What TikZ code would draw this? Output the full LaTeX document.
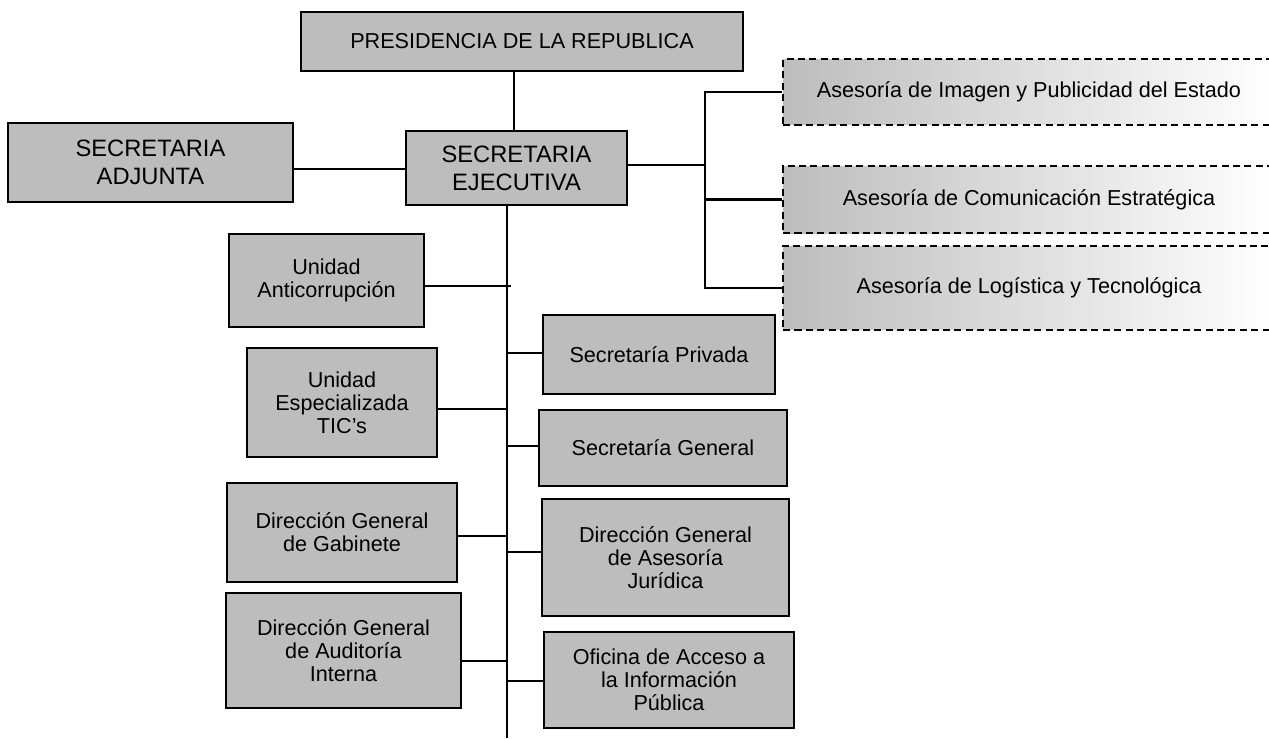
\documentclass[tikz,border=0pt]{standalone}
\usepackage{fontspec}
\setmainfont{Liberation Sans}
\usepackage{tikz}

\definecolor{cajagris}{gray}{0.74}

\tikzset{
	caja/.style={draw, line width=1.3pt, fill=cajagris, inner sep=0pt, align=center, font=\fontsize{12.3}{13}\selectfont},
	grande/.style={caja, font=\fontsize{13.5}{16}\selectfont},
	asesoria/.style={draw, line width=1.3pt, dash pattern=on 4pt off 2.5pt, left color=cajagris, right color=white, inner sep=0pt, align=center, font=\fontsize{12.3}{13}\selectfont, minimum width=9.84cm},
	linea/.style={line width=1.2pt}
}

\begin{document}
\begin{tikzpicture}[x=0.02cm, y=-0.02cm]
			\useasboundingbox (0,0) rectangle (1269,738);
			\node[caja, minimum width=8.84cm, minimum height=1.18cm] (pres) at (522,41.5) {PRESIDENCIA DE LA REPUBLICA};
			\node[grande, minimum width=4.42cm, minimum height=1.48cm] (ejec) at (516.5,168) {SECRETARIA\\EJECUTIVA};
			\node[grande, minimum width=5.70cm, minimum height=1.58cm] (adj) at (150.5,162.5) {SECRETARIA\\ADJUNTA};
			\node[asesoria, minimum height=1.32cm] (imagen) at (1029,92) {Asesoría de Imagen y Publicidad del Estado};
			\node[asesoria, minimum height=1.34cm] (comunic) at (1029,199.5) {Asesoría de Comunicación Estratégica};
			\node[asesoria, minimum height=1.68cm] (logist) at (1029,288) {Asesoría de Logística y Tecnológica};
			\node[caja, minimum width=3.90cm, minimum height=1.86cm] (anticorr) at (326.5,280.5) {Unidad\\Anticorrupción};
			\node[caja, minimum width=3.80cm, minimum height=2.18cm] (tics) at (342,402.5) {Unidad\\Especializada\\TIC's};
			\node[caja, minimum width=4.60cm, minimum height=1.98cm] (gabinete) at (342,532.5) {Dirección General\\de Gabinete};
			\node[caja, minimum width=4.70cm, minimum height=2.30cm] (auditoria) at (343.5,650.5) {Dirección General\\de Auditoría\\Interna};
			\node[caja, minimum width=4.64cm, minimum height=1.58cm] (privada) at (659,354.5) {Secretaría Privada};
			\node[caja, minimum width=4.96cm, minimum height=1.52cm] (general) at (663,448) {Secretaría General};
			\node[caja, minimum width=4.94cm, minimum height=2.34cm] (juridica) at (665.5,557.5) {Dirección General\\de Asesoría\\Jurídica};
			\node[caja, minimum width=5.00cm, minimum height=1.92cm] (acceso) at (669,680) {Oficina de Acceso a\\la Información\\Pública};
			\coordinate (tronco) at (507,738);
			\coordinate (rama) at (705,165);
			\draw[linea] (pres.south -| 514,0) -- (ejec.north -| 514,0);
			\draw[linea] (ejec.west |- 0,169) -- (adj.east |- 0,169);
			\draw[linea] (ejec.east |- rama) -- (rama);
			\draw[linea] (imagen.west) -| (rama) |- (logist.west);
			\draw[linea] (comunic.west) -- (comunic.west -| rama);
			\draw[linea] (ejec.south -| tronco) -- (tronco);
			\draw[linea] (anticorr.east |- 0,286) -- (511,286);
			\draw[linea] (tics.east |- 0,409) -- (tronco |- 0,409);
			\draw[linea] (gabinete.east |- 0,536) -- (tronco |- 0,536);
			\draw[linea] (auditoria.east |- 0,661) -- (tronco |- 0,661);
			\draw[linea] (privada.west |- 0,353) -- (tronco |- 0,353);
			\draw[linea] (general.west |- 0,446) -- (tronco |- 0,446);
			\draw[linea] (juridica.west |- 0,552) -- (tronco |- 0,552);
			\draw[linea] (acceso.west |- 0,681) -- (tronco |- 0,681);
		\end{tikzpicture}
\end{document}
